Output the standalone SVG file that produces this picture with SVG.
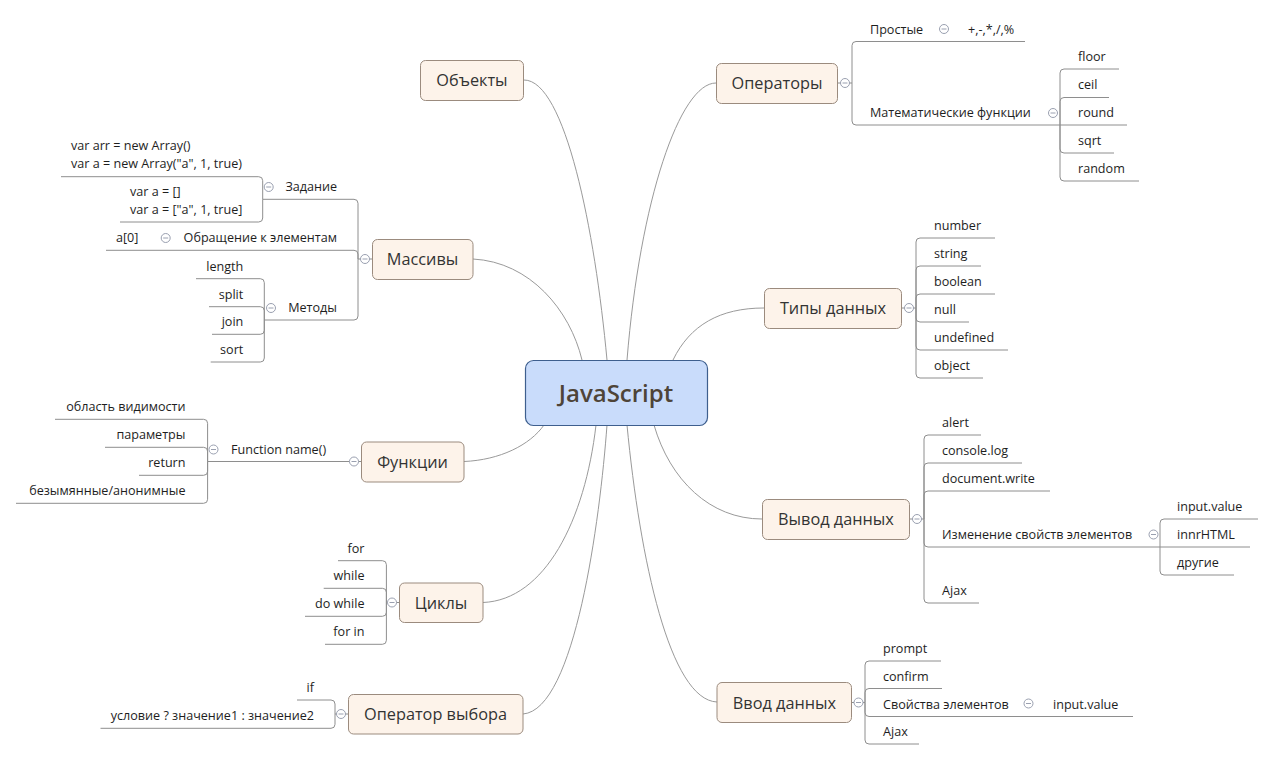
<svg xmlns="http://www.w3.org/2000/svg" xmlns:xlink="http://www.w3.org/1999/xlink" width="1273" height="760" viewBox="0 0 1273 760">
<style>
.cv{fill:none;stroke:#9a9a9a;stroke-width:1}
.tr{fill:none;stroke:#8e8e8e;stroke-width:1}
.box{fill:#fdf3ea;stroke:#9b8b7e;stroke-width:1}
.root{fill:#c9dcfb;stroke:#3e5f8e;stroke-width:1.2}
.bt{font-family:'Open Sans','Liberation Sans',sans-serif;font-size:16.3px;fill:#333;text-anchor:middle;dominant-baseline:central}
.rt{font-family:'Open Sans','Liberation Sans',sans-serif;font-size:24px;font-weight:600;fill:#4e4438;text-anchor:middle;dominant-baseline:central}
.lt{font-family:'Open Sans','Liberation Sans',sans-serif;font-size:12.6px;fill:#1e1e1e}
.e{text-anchor:end}
</style>
<defs>
<g id="m"><circle r="4.5" fill="#fff" stroke="#9aa0b0" stroke-width="1"/><path d="M-2.5,0H2.5" stroke="#9aa0b0" stroke-width="1"/></g>
</defs>
<rect width="1273" height="760" fill="#fff"/>
<g id="connectors">
<path class="cv" d="M524,80 C565,80 595,230 607,360"/>
<path class="cv" d="M716,83 C680,83 640,200 627,360"/>
<path class="cv" d="M473,259 C530,262 570,310 582,360"/>
<path class="cv" d="M764,308 C720,308 690,325 673,360"/>
<path class="cv" d="M464,461.5 C500,460 530,445 544,425"/>
<path class="cv" d="M483,602.5 C545,600 585,520 596,425"/>
<path class="cv" d="M523,714 C575,710 600,520 607,425"/>
<path class="cv" d="M762,519 C710,519 670,480 654,425"/>
<path class="cv" d="M717,702 C670,700 640,560 627,425"/>
<!-- Операторы -->
<path class="tr" d="M838,83H852"/>
<path class="tr" d="M852,83V45.5Q852,41.5 856,41.5H1025"/>
<path class="tr" d="M852,83V121Q852,125 856,125H1060"/>
<path class="tr" d="M1060,125V73Q1060,69 1064,69H1119"/>
<path class="tr" d="M1060,125V101.5Q1060,97.5 1064,97.5H1109"/>
<path class="tr" d="M1060,125H1127"/>
<path class="tr" d="M1060,125V149Q1060,153 1064,153H1114"/>
<path class="tr" d="M1060,125V177Q1060,181 1064,181H1139"/>
<!-- Типы данных -->
<path class="tr" d="M902,308H916"/>
<path class="tr" d="M916,308V242Q916,238 920,238H995"/>
<path class="tr" d="M916,308V270Q916,266 920,266H981"/>
<path class="tr" d="M916,308V298Q916,294 920,294H995"/>
<path class="tr" d="M916,308V318Q916,322 920,322H969"/>
<path class="tr" d="M916,308V346Q916,350 920,350H1008"/>
<path class="tr" d="M916,308V374Q916,378 920,378H983"/>
<!-- Вывод данных -->
<path class="tr" d="M910,519H924"/>
<path class="tr" d="M924,519V439Q924,435 928,435H981"/>
<path class="tr" d="M924,519V467Q924,463 928,463H1022"/>
<path class="tr" d="M924,519V495Q924,491 928,491H1050"/>
<path class="tr" d="M924,519V543Q924,547 928,547H1160"/>
<path class="tr" d="M924,519V599Q924,603 928,603H979"/>
<path class="tr" d="M1160,547V523Q1160,519 1164,519H1258"/>
<path class="tr" d="M1160,547H1250"/>
<path class="tr" d="M1160,547V571Q1160,575 1164,575H1234"/>
<!-- Ввод данных -->
<path class="tr" d="M852,702.5H865"/>
<path class="tr" d="M865,702.5V665Q865,661 869,661H941"/>
<path class="tr" d="M865,702.5V692.5Q865,688.5 869,688.5H942"/>
<path class="tr" d="M865,702.5V712.5Q865,716.5 869,716.5H1133"/>
<path class="tr" d="M865,702.5V740Q865,744 869,744H919"/>
<!-- Массивы -->
<path class="tr" d="M372,259H358"/>
<path class="tr" d="M358,259V203.3Q358,199.3 354,199.3H262.7"/>
<path class="tr" d="M358,259V254.3Q358,250.3 354,250.3H106"/>
<path class="tr" d="M358,259V316Q358,320 354,320H264.3"/>
<path class="tr" d="M262.7,199.3V180.7Q262.7,176.7 258.7,176.7H61"/>
<path class="tr" d="M262.7,199.3V218Q262.7,222 258.7,222H120"/>
<path class="tr" d="M264.3,320V282.7Q264.3,278.7 260.3,278.7H196"/>
<path class="tr" d="M264.3,320V310.7Q264.3,306.7 260.3,306.7H209"/>
<path class="tr" d="M264.3,320V330.3Q264.3,334.3 260.3,334.3H212"/>
<path class="tr" d="M264.3,320V358Q264.3,362 260.3,362H210.7"/>
<!-- Функции -->
<path class="tr" d="M361,461.5H207.6"/>
<path class="tr" d="M207.6,461.5V423.3Q207.6,419.3 203.6,419.3H55"/>
<path class="tr" d="M207.6,461.5V451.3Q207.6,447.3 203.6,447.3H105"/>
<path class="tr" d="M207.6,461.5V471.3Q207.6,475.3 203.6,475.3H139"/>
<path class="tr" d="M207.6,461.5V499.3Q207.6,503.3 203.6,503.3H16"/>
<!-- Циклы -->
<path class="tr" d="M399,602.5H386.4"/>
<path class="tr" d="M386.4,602.5V564.7Q386.4,560.7 382.4,560.7H338"/>
<path class="tr" d="M386.4,602.5V592.3Q386.4,588.3 382.4,588.3H323.7"/>
<path class="tr" d="M386.4,602.5V612.3Q386.4,616.3 382.4,616.3H305"/>
<path class="tr" d="M386.4,602.5V640.3Q386.4,644.3 382.4,644.3H325"/>
<!-- Оператор выбора -->
<path class="tr" d="M348,714H335"/>
<path class="tr" d="M335,714V704Q335,700 331,700H297"/>
<path class="tr" d="M335,714V724.3Q335,728.3 331,728.3H100.5"/>
</g>
<g id="root">
<rect class="root" x="525.5" y="360.5" width="182" height="65" rx="8"/>
<text class="rt" x="616" y="392.5">JavaScript</text>
</g>
<g id="objects">
<rect class="box" x="420.5" y="60.5" width="103" height="40" rx="5"/>
<text class="bt" x="472" y="80">Объекты</text>
</g>
<g id="operators">
<rect class="box" x="716.5" y="63.5" width="121" height="40" rx="5"/>
<text class="bt" x="777" y="83">Операторы</text>
<use xlink:href="#m" x="845" y="83"/>
<text class="lt" x="870" y="33.5">Простые</text>
<use xlink:href="#m" x="944" y="29"/>
<text class="lt" x="968" y="33.5">+,-,*,/,%</text>
<text class="lt" x="870" y="117">Математические функции</text>
<use xlink:href="#m" x="1053" y="113"/>
<text class="lt" x="1078" y="61">floor</text>
<text class="lt" x="1078" y="89">ceil</text>
<text class="lt" x="1078" y="117">round</text>
<text class="lt" x="1078" y="145">sqrt</text>
<text class="lt" x="1078" y="173">random</text>
</g>
<g id="types">
<rect class="box" x="764.5" y="288.5" width="137" height="40" rx="5"/>
<text class="bt" x="833" y="308">Типы данных</text>
<use xlink:href="#m" x="909" y="308"/>
<text class="lt" x="934" y="230">number</text>
<text class="lt" x="934" y="258">string</text>
<text class="lt" x="934" y="286">boolean</text>
<text class="lt" x="934" y="314">null</text>
<text class="lt" x="934" y="342">undefined</text>
<text class="lt" x="934" y="370">object</text>
</g>
<g id="output">
<rect class="box" x="762.5" y="499.5" width="147" height="40" rx="5"/>
<text class="bt" x="836" y="519">Вывод данных</text>
<use xlink:href="#m" x="917" y="519"/>
<text class="lt" x="942" y="427">alert</text>
<text class="lt" x="942" y="455">console.log</text>
<text class="lt" x="942" y="483">document.write</text>
<text class="lt" x="942" y="539">Изменение свойств элементов</text>
<use xlink:href="#m" x="1153.5" y="534.5"/>
<text class="lt" x="1177" y="511">input.value</text>
<text class="lt" x="1177" y="539">innrHTML</text>
<text class="lt" x="1177" y="567">другие</text>
<text class="lt" x="942" y="595">Ajax</text>
</g>
<g id="input">
<rect class="box" x="717" y="682.5" width="134.5" height="40" rx="5"/>
<text class="bt" x="784.5" y="702.5">Ввод данных</text>
<use xlink:href="#m" x="858.5" y="702.5"/>
<text class="lt" x="883" y="653">prompt</text>
<text class="lt" x="883" y="680.5">confirm</text>
<text class="lt" x="883" y="708.5">Свойства элементов</text>
<use xlink:href="#m" x="1028.5" y="703.5"/>
<text class="lt" x="1053" y="708.5">input.value</text>
<text class="lt" x="883" y="736">Ajax</text>
</g>
<g id="arrays">
<rect class="box" x="372.5" y="239.5" width="100.5" height="40" rx="5"/>
<text class="bt" x="422.5" y="259">Массивы</text>
<use xlink:href="#m" x="365" y="259"/>
<text class="lt e" x="337" y="191.3">Задание</text>
<use xlink:href="#m" x="268.7" y="187"/>
<text class="lt" x="71" y="150.2">var arr = new Array()</text>
<text class="lt" x="71" y="167.8">var a = new Array("a", 1, true)</text>
<text class="lt" x="130" y="196">var a = []</text>
<text class="lt" x="130" y="213.7">var a = ["a", 1, true]</text>
<text class="lt e" x="337" y="242.3">Обращение к элементам</text>
<use xlink:href="#m" x="165.7" y="238"/>
<text class="lt" x="116" y="242.3">a[0]</text>
<text class="lt e" x="337" y="312">Методы</text>
<use xlink:href="#m" x="271" y="308"/>
<text class="lt e" x="243.3" y="270.5">length</text>
<text class="lt e" x="243.3" y="298.5">split</text>
<text class="lt e" x="243.3" y="326">join</text>
<text class="lt e" x="243.3" y="354">sort</text>
</g>
<g id="functions">
<rect class="box" x="361.5" y="442" width="102.5" height="40" rx="5"/>
<text class="bt" x="412.5" y="462">Функции</text>
<use xlink:href="#m" x="354" y="461.5"/>
<text class="lt" x="231" y="453.5">Function name()</text>
<use xlink:href="#m" x="213.5" y="449.5"/>
<text class="lt e" x="185.5" y="411.3">область видимости</text>
<text class="lt e" x="185.5" y="439.3">параметры</text>
<text class="lt e" x="185.5" y="467.3">return</text>
<text class="lt e" x="185.5" y="495.3">безымянные/анонимные</text>
</g>
<g id="loops">
<rect class="box" x="399.5" y="583" width="83.5" height="39.5" rx="5"/>
<text class="bt" x="441" y="602.5">Циклы</text>
<use xlink:href="#m" x="392" y="602.5"/>
<text class="lt e" x="364.5" y="552.7">for</text>
<text class="lt e" x="364.5" y="580.3">while</text>
<text class="lt e" x="364.5" y="608.3">do while</text>
<text class="lt e" x="364.5" y="636.3">for in</text>
</g>
<g id="choice">
<rect class="box" x="348.5" y="694.5" width="174.5" height="39.5" rx="5"/>
<text class="bt" x="435.5" y="714">Оператор выбора</text>
<use xlink:href="#m" x="341" y="714"/>
<text class="lt e" x="314" y="692">if</text>
<text class="lt e" x="314" y="720.3">условие ? значение1 : значение2</text>
</g>
</svg>
